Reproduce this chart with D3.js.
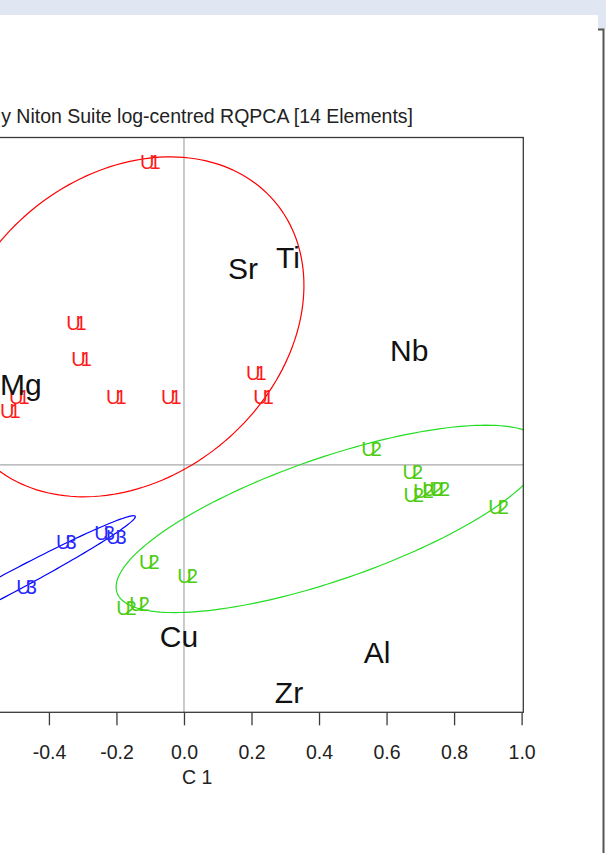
<!DOCTYPE html>
<html>
<head>
<meta charset="utf-8">
<script src="https://cdn.jsdelivr.net/npm/d3@7"></script>
<style>
  html, body { margin: 0; padding: 0; background: #ffffff; }
  svg { display: block; }
  text { font-family: "Liberation Sans", Arial, sans-serif; }
</style>
</head>
<body>
<svg id="chart" width="606" height="853"></svg>
<script>
// ---------------- data ----------------
const titleText = "y Niton Suite log-centred RQPCA [14 Elements]";
const xAxisLabel = "C 1";

const xLim = [-0.927, 1.005];
const yLim = [-0.733, 0.970];
const xTicks = [-0.4, -0.2, 0.0, 0.2, 0.4, 0.6, 0.8, 1.0];
const xTickLabels = ["-0.4", "-0.2", "0.0", "0.2", "0.4", "0.6", "0.8", "1.0"];

// group U1 (red)
const u1X = [-0.098, -0.317, -0.302, -0.486, -0.513, -0.199, -0.036, 0.216, 0.237];
const u1Y = [0.898, 0.421, 0.314, 0.202, 0.160, 0.202, 0.202, 0.273, 0.202];
// group U2 (green)
const u2X = [0.557, 0.679, 0.682, 0.711, 0.738, 0.759, 0.933, -0.101, 0.012, -0.169, -0.130];
const u2Y = [0.047, -0.021, -0.089, -0.077, -0.071, -0.071, -0.124, -0.287, -0.329, -0.424, -0.412];
// group U3 (blue)
const u3X = [-0.347, -0.234, -0.199, -0.465];
const u3Y = [-0.228, -0.202, -0.213, -0.362];

// element loadings
const elemNames = ["Sr", "Ti", "Nb", "Mg", "Cu", "Al", "Zr"];
const elemX = [0.175, 0.308, 0.667, -0.483, -0.015, 0.572, 0.311];
const elemY = [0.584, 0.616, 0.341, 0.240, -0.507, -0.554, -0.673];

// group ellipses: centre, semi-axes, rotation (degrees)
const ellGroups = ["U1", "U2", "U3"];
const ellCx = [-0.169, 0.433, -0.516];
const ellCy = [0.409, -0.160, -0.350];
const ellA = [0.574, 0.668, 0.421];
const ellB = [0.446, 0.181, 0.030];
const ellAngle = [40.3, 19.1, 28.0];

const groupColors = { U1: "#ff1a1a", U2: "#4ccc10", U3: "#2828ff" };
const ellColors = { U1: "#ff0000", U2: "#22dd22", U3: "#0000ff" };

// ---------------- layout ----------------
const svg = d3.select("#chart");
const W = 606, H = 853;
const plotLeft = -129, plotRight = 523.3, plotTop = 137.5, plotBottom = 712.3;

const x = d3.scaleLinear().domain(xLim).range([plotLeft, plotRight]);
const y = d3.scaleLinear().domain(yLim).range([plotBottom, plotTop]);

// window decoration
svg.append("rect").attr("x", 0).attr("y", 0).attr("width", W).attr("height", 15).attr("fill", "#e0e7f3");
svg.append("rect").attr("x", 598).attr("y", 15).attr("width", 8).attr("height", 14).attr("fill", "#e0e7f3");
svg.append("path").attr("d", "M598,29.5 H603.5 V853").attr("fill", "none").attr("stroke", "#555").attr("stroke-width", 2);

// clip
svg.append("clipPath").attr("id", "plotClip").append("rect")
  .attr("x", plotLeft).attr("y", plotTop)
  .attr("width", plotRight - plotLeft).attr("height", plotBottom - plotTop);

// zero lines
svg.append("line").attr("x1", x(0)).attr("x2", x(0)).attr("y1", plotTop).attr("y2", plotBottom)
  .attr("stroke", "#a8a8a8").attr("stroke-width", 1.2);
svg.append("line").attr("x1", plotLeft).attr("x2", plotRight).attr("y1", y(0)).attr("y2", y(0))
  .attr("stroke", "#a8a8a8").attr("stroke-width", 1.2);

// ellipses
const ellG = svg.append("g").attr("clip-path", "url(#plotClip)");
ellGroups.forEach((g, i) => {
  const th = ellAngle[i] * Math.PI / 180;
  const pts = d3.range(0, 361, 2).map(d => {
    const t = d * Math.PI / 180;
    const ex = ellA[i] * Math.cos(t), ey = ellB[i] * Math.sin(t);
    return [ellCx[i] + ex * Math.cos(th) - ey * Math.sin(th),
            ellCy[i] + ex * Math.sin(th) + ey * Math.cos(th)];
  });
  ellG.append("path")
    .attr("d", d3.line().x(p => x(p[0])).y(p => y(p[1]))(pts))
    .attr("fill", "none").attr("stroke", ellColors[g]).attr("stroke-width", 1.2);
});

// group labels
const ptsG = svg.append("g").attr("clip-path", "url(#plotClip)");
function drawGroup(name, xs, ys) {
  ptsG.selectAll(null).data(xs.map((v, i) => [v, ys[i]])).enter().append("text")
    .attr("x", d => x(d[0]) - 3)
    .attr("y", d => y(d[1]))
    .attr("dy", "0.36em")
    .attr("text-anchor", "middle")
    .attr("font-size", 20)
    .attr("letter-spacing", "-5px")
    .attr("fill", groupColors[name])
    .text(name);
}
drawGroup("U1", u1X, u1Y);
drawGroup("U2", u2X, u2Y);
drawGroup("U3", u3X, u3Y);

// element labels
ptsG.selectAll(null).data(elemNames).enter().append("text")
  .attr("x", (d, i) => x(elemX[i]))
  .attr("y", (d, i) => y(elemY[i]))
  .attr("dy", "0.36em")
  .attr("text-anchor", "middle")
  .attr("font-size", 30)
  .attr("fill", "#111")
  .text(d => d);

// box
svg.append("rect").attr("x", plotLeft).attr("y", plotTop)
  .attr("width", plotRight - plotLeft).attr("height", plotBottom - plotTop)
  .attr("fill", "none").attr("stroke", "#3a3a3a").attr("stroke-width", 1.3);

// x axis
const xAxis = d3.axisBottom(x).tickValues(xTicks)
  .tickFormat((d, i) => xTickLabels[i]).tickSize(13).tickPadding(20).tickSizeOuter(0);
const axG = svg.append("g").attr("transform", `translate(0,${plotBottom})`).call(xAxis);
axG.select(".domain").remove();
axG.selectAll(".tick line").attr("stroke", "#3a3a3a").attr("stroke-width", 1.3);
axG.selectAll(".tick text").attr("font-size", 19.5).attr("fill", "#222")
  .attr("font-family", "'Liberation Sans', Arial, sans-serif");

// axis label
svg.append("text").attr("x", (plotLeft + plotRight) / 2).attr("y", 784)
  .attr("text-anchor", "middle").attr("font-size", 19.5).attr("fill", "#222").text(xAxisLabel);

// title
svg.append("text").attr("x", 413).attr("y", 123)
  .attr("text-anchor", "end").attr("font-size", 19.5).attr("fill", "#222").text(titleText);
</script>
</body>
</html>
